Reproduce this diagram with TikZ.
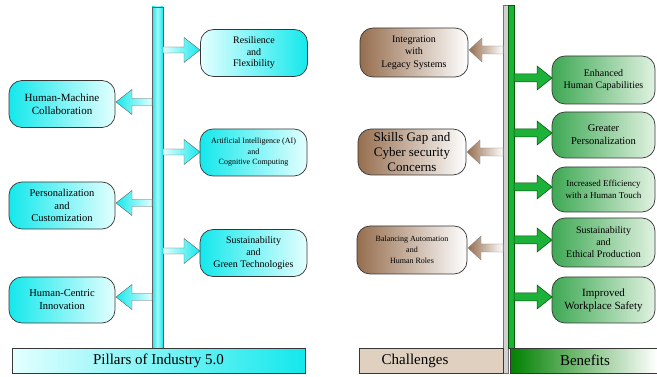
\documentclass[tikz,border=0pt]{standalone}
\usepackage{fontspec}
\setmainfont{Liberation Serif}
\definecolor{cyanM}{RGB}{20,232,236}
\definecolor{cyanL}{RGB}{228,255,255}
\definecolor{brownM}{RGB}{150,110,78}
\definecolor{tanC}{RGB}{224,208,192}
\definecolor{greenM}{RGB}{62,168,84}
\definecolor{greenL}{RGB}{225,242,225}
\definecolor{greenA}{RGB}{28,178,58}
\definecolor{greenD}{RGB}{0,128,0}
\definecolor{edgeC}{RGB}{55,55,55}
\newcommand\blkarrow[7]{%
  \path[#1] (#2,#4-#5) -- (#3-#7,#4-#5) -- (#3-#7,#4-#6) -- (#3,#4)
    -- (#3-#7,#4+#6) -- (#3-#7,#4+#5) -- (#2,#4+#5) -- cycle;}
\begin{document}
\begin{tikzpicture}[x=1pt,y=-1pt,
  box/.style={draw=edgeC, rounded corners=13pt, align=center, inner sep=1pt,
    line width=0.7pt, minimum width=107pt, minimum height=47pt},
  cyanbox/.style={box, left color=cyanM, right color=cyanL},
  cyanboxR/.style={box, left color=cyanL, right color=cyanM},
  brownbox/.style={box, left color=brownM, right color=white},
  greenbox/.style={box, left color=greenM, right color=greenL},
  arrC/.style={draw=edgeC!80, line width=0.4pt},
  arrCR/.style={arrC, left color=cyanL, right color=cyanM},
  arrCL/.style={arrC, left color=cyanM, right color=cyanL},
  arrB/.style={draw=edgeC!60, line width=0.4pt, left color=brownM, right color=white},
  arrG/.style={draw=greenD!60!black, line width=0.5pt, fill=greenA},
  title/.style={draw=edgeC, line width=0.5pt, inner sep=0pt, font=\fontsize{15}{17}\selectfont}
]
\useasboundingbox (0,0) rectangle (657,377);
% bars
\path[draw=edgeC!80, line width=0.5pt, left color=cyanM, right color=cyanM, middle color=cyanL!70!cyanM] (152,7) rectangle (163,348);
\path[draw=edgeC!70, line width=0.4pt, fill=black!18] (503,5) rectangle (508,373);
\path[draw=greenD!70!black, line width=0.4pt, fill=greenA] (508,5) rectangle (514,348);
% bottom titles
\node[title, minimum width=293pt, minimum height=25pt, left color=cyanL, right color=cyanM] (pillars) at (158.5,360.5) {Pillars of Industry 5.0};
\node[title, minimum width=144pt, minimum height=25pt, fill=tanC] (chal) at (431,360.5) {};
\node[font=\fontsize{15}{17}\selectfont] (chaltxt) at (415,360.5) {Challenges};
\node[title, minimum width=147pt, minimum height=25pt, left color=greenD, right color=white] (ben) at (583.5,360.5) {};
\node[font=\fontsize{15}{17}\selectfont] (bentxt) at (585,360.5) {Benefits};
% pillar boxes
\node[cyanboxR, font=\fontsize{10}{11.5}\selectfont] (res) at (254,53) {Resilience\\and\\Flexibility};
\node[cyanbox, font=\fontsize{11}{13}\selectfont, minimum width=106pt] (hm) at (62,104) {Human-Machine\\Collaboration};
\node[cyanbox, font=\fontsize{8}{10.5}\selectfont] (ai) at (253.5,152.5) {Artificial Intelligence (AI)\\and\\Cognitive Computing};
\node[cyanbox, font=\fontsize{10.5}{12.5}\selectfont, minimum width=106pt] (pers) at (62,205.5) {Personalization\\and\\Customization};
\node[cyanbox, font=\fontsize{10}{12}\selectfont] (sust) at (253.5,253) {Sustainability\\and\\Green Technologies};
\node[cyanbox, font=\fontsize{10.5}{13}\selectfont, minimum width=106pt, minimum height=46pt] (hc) at (62,300) {Human-Centric\\Innovation};
% challenge boxes
\node[brownbox, font=\fontsize{10}{12.5}\selectfont, minimum width=108pt, minimum height=49pt] (integ) at (414,52.5) {Integration\\with\\Legacy Systems};
\node[brownbox, font=\fontsize{13}{15}\selectfont, minimum width=108pt, minimum height=46pt] (skills) at (412,152) {Skills Gap and\\Cyber security\\Concerns};
\node[brownbox, font=\fontsize{8}{11}\selectfont, minimum width=110pt, minimum height=48pt] (bal) at (412,250) {Balancing Automation\\and\\Human Roles};
% benefit boxes
\node[greenbox, font=\fontsize{10}{12}\selectfont, minimum width=103pt, minimum height=48pt] (enh) at (603.5,80) {Enhanced\\Human Capabilities};
\node[greenbox, font=\fontsize{10.5}{13}\selectfont, minimum width=103pt, minimum height=46pt] (grt) at (603.5,135) {Greater\\Personalization};
\node[greenbox, font=\fontsize{9}{12}\selectfont, minimum width=103pt, minimum height=45pt] (inc) at (603.5,189.5) {Increased Efficiency\\with a Human Touch};
\node[greenbox, font=\fontsize{10}{12}\selectfont, minimum width=103pt, minimum height=49pt] (eth) at (603.5,242.5) {Sustainability\\and\\Ethical Production};
\node[greenbox, font=\fontsize{11}{13}\selectfont, minimum width=103pt, minimum height=46pt] (imp) at (603.5,300) {Improved\\Workplace Safety};
% pillar arrows
\blkarrow{arrCR}{163}{200}{50}{3}{12.5}{16}
\blkarrow{arrCR}{163}{200}{152}{3}{12.5}{16}
\blkarrow{arrCR}{163}{200}{251}{3}{12.5}{16}
\blkarrow{arrCL}{152}{116}{102}{3.5}{12.5}{-16}
\blkarrow{arrCL}{152}{116}{203}{3.5}{12.5}{-16}
\blkarrow{arrCL}{152}{116}{297}{3.5}{12.5}{-16}
% challenge arrows
\blkarrow{arrB}{503}{469}{50}{4}{12}{-13}
\blkarrow{arrB}{503}{467}{152}{4}{12}{-13}
\blkarrow{arrB}{503}{468}{248}{4}{12}{-13}
% benefit arrows
\blkarrow{arrG}{514}{552}{78}{4}{12}{15}
\blkarrow{arrG}{514}{552}{133}{4}{12}{15}
\blkarrow{arrG}{514}{552}{187}{4}{12}{15}
\blkarrow{arrG}{514}{552}{240}{4}{12}{15}
\blkarrow{arrG}{514}{552}{297}{4}{12}{15}
\end{tikzpicture}
\end{document}
